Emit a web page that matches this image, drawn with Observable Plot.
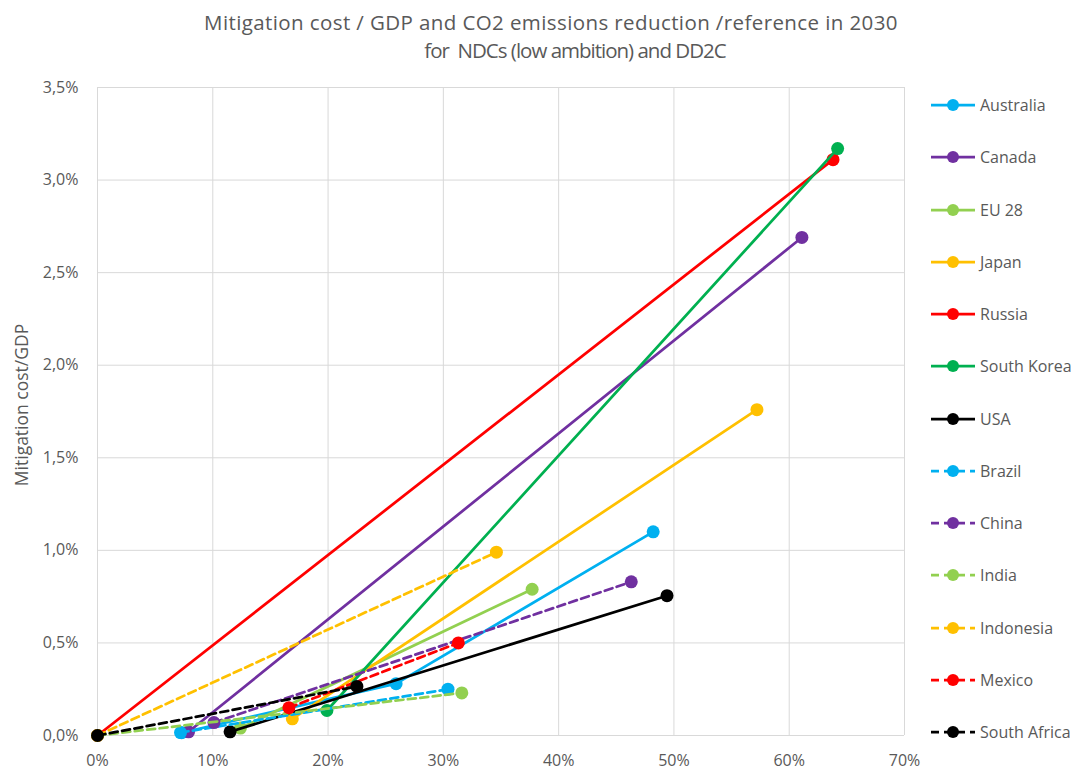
<!DOCTYPE html>
<html>
<head>
<meta charset="utf-8">
<script src="https://cdn.jsdelivr.net/npm/d3@7"></script>
<script src="https://cdn.jsdelivr.net/npm/@observablehq/plot@0.6"></script>
<style>
  body { margin: 0; background: #fff; font-family: "Open Sans", sans-serif; }
  #wrap { position: relative; width: 1086px; height: 774px; overflow: hidden; background: #fff; }
  .tline { position: absolute; left: 0; text-align: center; color: #595959; font-size: 20.5px; line-height: 28px; white-space: pre; }
  #t1 { top: 8px; width: 1102px; letter-spacing: 0.4px; }
  #t2 { top: 36px; width: 1150px; letter-spacing: -1px; }
  #chart { position: absolute; left: 0; top: 70px; }
  #legend { position: absolute; left: 930px; top: 79px; }
  .item { height: 52.25px; display: flex; align-items: center; color: #595959; font-size: 16px; white-space: nowrap; }
  .item svg { margin-right: 4px; }
</style>
</head>
<body>
<div id="wrap">
  <div id="chart"></div>
  <div id="t1" class="tline"></div>
  <div id="t2" class="tline"></div>
  <div id="legend"></div>
</div>
<script>
const titleLines = ["Mitigation cost / GDP and CO2 emissions reduction /reference in 2030", "for  NDCs (low ambition) and DD2C"];
const yLabel = "Mitigation cost/GDP";
const countries = ["Australia", "Canada", "EU 28", "Japan", "Russia", "South Korea", "USA", "Brazil", "China", "India", "Indonesia", "Mexico", "South Africa"];
const colors = ["#00B0F0", "#7030A0", "#92D050", "#FFC000", "#FF0000", "#00B050", "#000000", "#00B0F0", "#7030A0", "#92D050", "#FFC000", "#FF0000", "#000000"];
const dashed = [false, false, false, false, false, false, false, true, true, true, true, true, true];
// CO2 emissions reduction / reference (x) for each country's points
const reduction = [
  [0.073, 0.259, 0.482],
  [0.079, 0.611],
  [0.124, 0.377],
  [0.169, 0.572],
  [0.000, 0.638],
  [0.199, 0.642],
  [0.115, 0.494],
  [0.072, 0.304],
  [0.101, 0.463],
  [0.000, 0.316],
  [0.000, 0.346],
  [0.166, 0.313],
  [0.000, 0.225]
];
// Mitigation cost / GDP (y)
const cost = [
  [0.00015, 0.0028, 0.0110],
  [0.0002, 0.0269],
  [0.0004, 0.0079],
  [0.0009, 0.0176],
  [0.0000, 0.0311],
  [0.00135, 0.0317],
  [0.0002, 0.00755],
  [0.00016, 0.0025],
  [0.0007, 0.0083],
  [0.0000, 0.0023],
  [0.0000, 0.0099],
  [0.0015, 0.0050],
  [0.0000, 0.00265]
];
const xTicks = [0, 0.1, 0.2, 0.3, 0.4, 0.5, 0.6, 0.7];
const yTicks = [0, 0.005, 0.01, 0.015, 0.02, 0.025, 0.03, 0.035];

document.getElementById("t1").textContent = titleLines[0];
document.getElementById("t2").textContent = titleLines[1];

const series = countries.map((c, i) => reduction[i].map((x, j) => ({country: c, x, y: cost[i][j]})));

const marks = [
  Plot.gridX(xTicks, {stroke: "#d9d9d9", strokeOpacity: 1}),
  Plot.gridY(yTicks, {stroke: "#d9d9d9", strokeOpacity: 1}),
  Plot.axisX(xTicks, {tickSize: 0, tickPadding: 19, tickFormat: d => Math.round(d * 100) + "%", fontSize: 16, color: "#595959", label: null}),
  Plot.axisY(yTicks, {tickSize: 0, tickPadding: 19, tickFormat: d => (d * 100).toFixed(1).replace(".", ",") + "%", fontSize: 16, color: "#595959", label: null})
];
series.forEach((pts, i) => {
  marks.push(Plot.line(pts, {x: "x", y: "y", stroke: colors[i], strokeWidth: 2.75, strokeDasharray: dashed[i] ? "8,4.5" : null}));
  marks.push(Plot.dot(pts, {x: "x", y: "y", fill: colors[i], r: 6.5}));
});

const chart = Plot.plot({
  width: 930,
  height: 704,
  marginTop: 17,
  marginBottom: 39,
  marginLeft: 97,
  marginRight: 26,
  style: {fontFamily: "'Open Sans', sans-serif", fontSize: "16px", color: "#595959", background: "transparent"},
  x: {domain: [0, 0.7]},
  y: {domain: [0, 0.035]},
  marks
});
document.getElementById("chart").appendChild(chart);

// y axis title
const svgNS = "http://www.w3.org/2000/svg";
const lab = document.createElementNS(svgNS, "text");
lab.textContent = yLabel;
lab.setAttribute("transform", "translate(28," + (17 + 648 / 2 - 6) + ") rotate(-90)");
lab.setAttribute("text-anchor", "middle");
lab.setAttribute("fill", "#595959");
lab.setAttribute("font-size", "17.5px");
lab.setAttribute("font-family", "'Open Sans', sans-serif");
chart.appendChild(lab);

// legend
const legend = document.getElementById("legend");
countries.forEach((c, i) => {
  const item = document.createElement("div");
  item.className = "item";
  const dash = dashed[i] ? 'stroke-dasharray="8,5"' : "";
  item.innerHTML = `<svg width="46" height="16"><line x1="1" x2="45" y1="8" y2="8" stroke="${colors[i]}" stroke-width="2.75" ${dash}/><circle cx="23" cy="8" r="6" fill="${colors[i]}"/></svg><span>${c}</span>`;
  legend.appendChild(item);
});
</script>
</body>
</html>
